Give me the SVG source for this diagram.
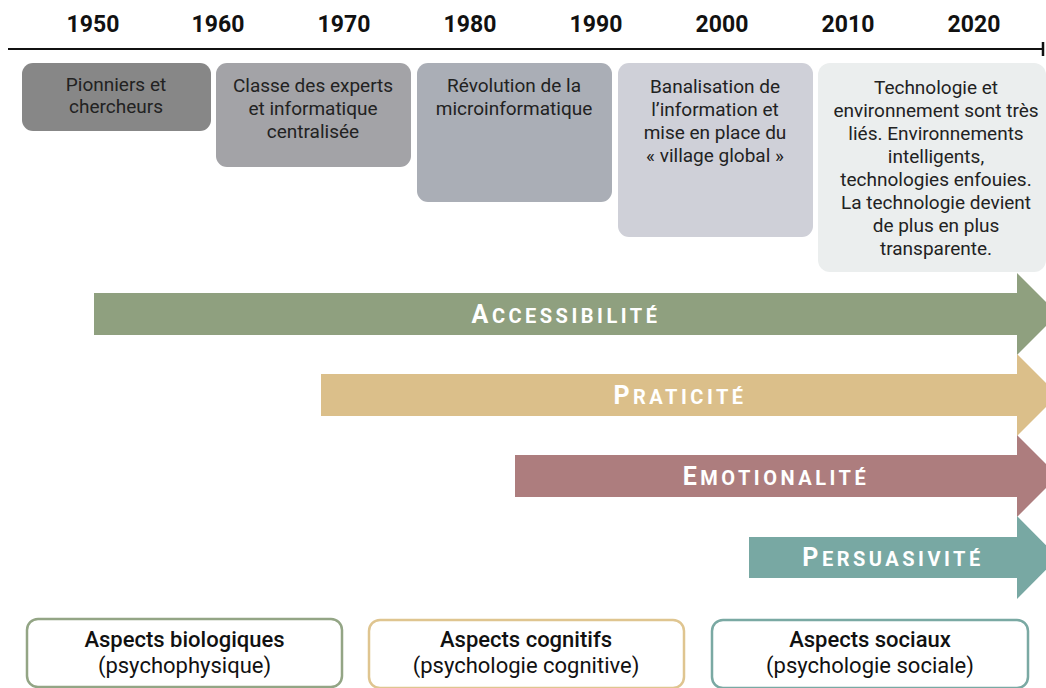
<svg xmlns="http://www.w3.org/2000/svg" width="1046" height="688" viewBox="0 0 1046 688">
<style>
.yr{font-family:Roboto,"Liberation Sans",sans-serif;font-weight:700;font-size:23px;fill:#111;text-anchor:middle}
.bt{font-family:Roboto,"Liberation Sans",sans-serif;font-size:19px;fill:#222;text-anchor:middle}
.al{font-family:Roboto,"Liberation Sans",sans-serif;font-weight:700;font-size:20px;fill:#fff;text-anchor:middle;letter-spacing:3.5px}
.al .big{font-size:25px}
.h{font-family:Roboto,"Liberation Sans",sans-serif;font-weight:500;font-size:22px;fill:#111;text-anchor:middle}
.s{font-family:Roboto,"Liberation Sans",sans-serif;font-size:22px;fill:#111;text-anchor:middle}
.fb{fill:#fff;stroke-width:2.5}
</style>
<rect width="1046" height="688" fill="#fff"/>
<g id="axis">
<line x1="8" y1="49" x2="1043" y2="49" stroke="#111" stroke-width="2"/>
<line x1="1043" y1="42" x2="1043" y2="56" stroke="#111" stroke-width="2.5"/>
<text class="yr" x="93" y="32">1950</text>
<text class="yr" x="218" y="32">1960</text>
<text class="yr" x="344" y="32">1970</text>
<text class="yr" x="470" y="32">1980</text>
<text class="yr" x="596" y="32">1990</text>
<text class="yr" x="722" y="32">2000</text>
<text class="yr" x="848" y="32">2010</text>
<text class="yr" x="974" y="32">2020</text>
</g>
<g id="era1">
<rect x="22" y="63" width="189" height="68" rx="11" fill="#878787"/>
<text class="bt" x="116" y="91">Pionniers et</text>
<text class="bt" x="116" y="113">chercheurs</text>
</g>
<g id="era2">
<rect x="216" y="63" width="195" height="104" rx="11" fill="#a3a3a7"/>
<text class="bt" x="313" y="92">Classe des experts</text>
<text class="bt" x="313" y="115">et informatique</text>
<text class="bt" x="313" y="138">centralisée</text>
</g>
<g id="era3">
<rect x="417" y="63" width="195" height="139" rx="11" fill="#aaaeb6"/>
<text class="bt" x="514" y="92">Révolution de la</text>
<text class="bt" x="514" y="115">microinformatique</text>
</g>
<g id="era4">
<rect x="618" y="63" width="195" height="174" rx="11" fill="#cfd0d8"/>
<text class="bt" x="715" y="93">Banalisation de</text>
<text class="bt" x="715" y="116">l’information et</text>
<text class="bt" x="715" y="139">mise en place du</text>
<text class="bt" x="715" y="162">« village global »</text>
</g>
<g id="era5">
<rect x="818" y="63" width="228" height="209" rx="12" fill="#ebeeee"/>
<text class="bt" x="936" y="94">Technologie et</text>
<text class="bt" x="936" y="117">environnement sont très</text>
<text class="bt" x="936" y="140">liés. Environnements</text>
<text class="bt" x="936" y="163">intelligents,</text>
<text class="bt" x="936" y="186">technologies enfouies.</text>
<text class="bt" x="936" y="209">La technologie devient</text>
<text class="bt" x="936" y="232">de plus en plus</text>
<text class="bt" x="936" y="255">transparente.</text>
</g>
<g id="connectors">
<g id="arrow-accessibilite">
<polygon points="94,293 1017,293 1017,273 1058,314 1017,355 1017,335 94,335" fill="#8fa07f"/>
<text class="al" x="566" y="323"><tspan class="big">A</tspan>CCESSIBILITÉ</text>
</g>
<g id="arrow-praticite">
<polygon points="321,374 1017,374 1017,354 1058,395 1017,436 1017,416 321,416" fill="#dbbf8a"/>
<text class="al" x="680" y="404"><tspan class="big">P</tspan>RATICITÉ</text>
</g>
<g id="arrow-emotionalite">
<polygon points="515,455 1017,455 1017,435 1058,476 1017,517 1017,497 515,497" fill="#ad7d7e"/>
<text class="al" x="776" y="485"><tspan class="big">E</tspan>MOTIONALITÉ</text>
</g>
<g id="arrow-persuasivite">
<polygon points="749,537 1017,537 1017,516 1058,557.5 1017,599 1017,578 749,578" fill="#78a8a3"/>
<text class="al" x="893" y="566"><tspan class="big">P</tspan>ERSUASIVITÉ</text>
</g>
</g>
<g id="aspect-bio">
<rect class="fb" x="27" y="619" width="315" height="68" rx="11" stroke="#93a585"/>
<text class="h" x="184.5" y="647">Aspects biologiques</text>
<text class="s" x="184.5" y="673">(psychophysique)</text>
</g>
<g id="aspect-cog">
<rect class="fb" x="369" y="620" width="315" height="68" rx="11" stroke="#dfc590"/>
<text class="h" x="526" y="647">Aspects cognitifs</text>
<text class="s" x="526" y="673">(psychologie cognitive)</text>
</g>
<g id="aspect-soc">
<rect class="fb" x="712" y="620" width="316" height="68" rx="11" stroke="#7aa9a3"/>
<text class="h" x="870" y="647">Aspects sociaux</text>
<text class="s" x="870" y="673">(psychologie sociale)</text>
</g>
</svg>
